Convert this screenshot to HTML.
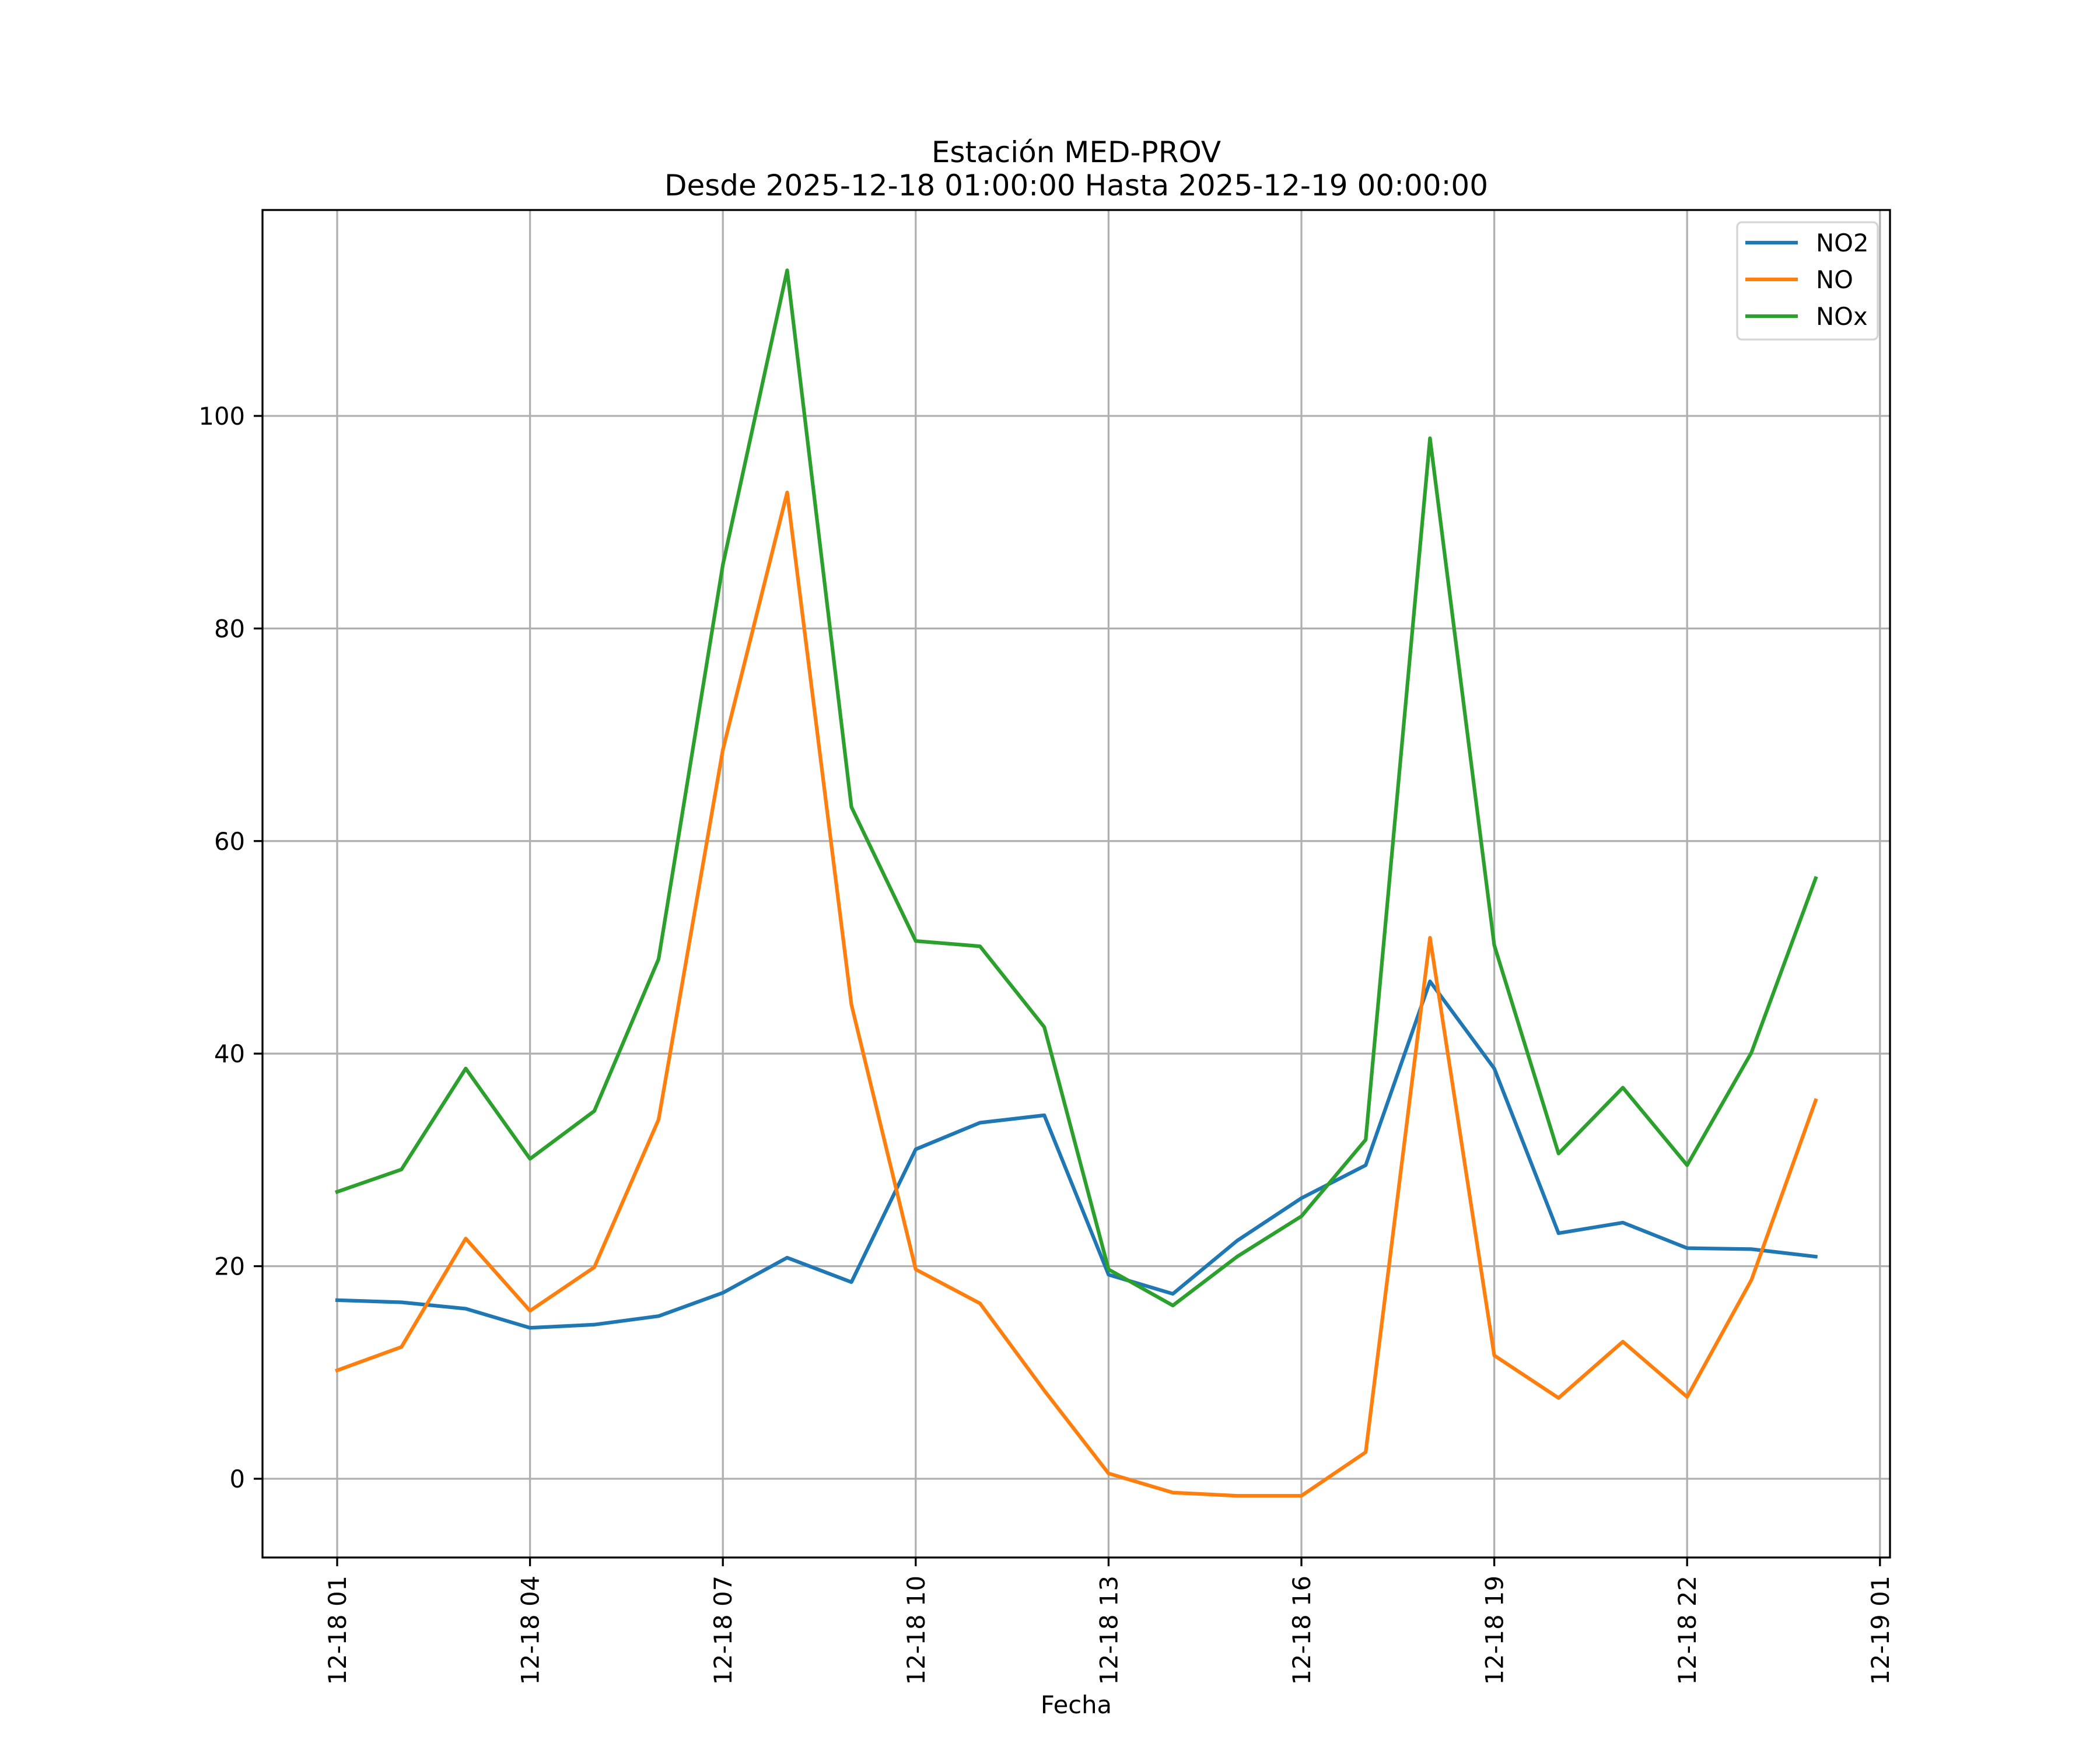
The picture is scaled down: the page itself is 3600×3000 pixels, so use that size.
<!DOCTYPE html>
<html><head><meta charset="utf-8"><style>
html,body{margin:0;padding:0;background:#fff;}
svg{display:block;font-family:"DejaVu Sans","Liberation Sans",sans-serif;}
</style></head><body>
<svg id="chart" width="3600" height="3000" viewBox="0 0 3600 3000" xmlns="http://www.w3.org/2000/svg">
<rect width="3600" height="3000" fill="#fff"/>
<text x="1845" y="278" font-size="50" text-anchor="middle">Estación MED-PROV</text>
<text x="1845" y="335" font-size="50" text-anchor="middle">Desde 2025-12-18 01:00:00 Hasta 2025-12-19 00:00:00</text>
<g id="grid"></g>
<g id="series"></g>
<rect x="450" y="360" width="2790" height="2310" fill="none" stroke="#000" stroke-width="3.3"/>
<g id="ticks"></g>
<text x="1845" y="2937" font-size="41.7" text-anchor="middle">Fecha</text>
<g>
<rect x="2978" y="381" width="241" height="201" rx="8" fill="#fff" fill-opacity="0.8" stroke="#d5d5d5" stroke-width="3.3"/>
<line x1="2992" y1="416" x2="3082" y2="416" stroke="#1f77b4" stroke-width="6.25"/>
<text x="3113" y="431" font-size="41.7">NO2</text>
<line x1="2992" y1="479" x2="3082" y2="479" stroke="#ff7f0e" stroke-width="6.25"/>
<text x="3113" y="494" font-size="41.7">NO</text>
<line x1="2992" y1="542" x2="3082" y2="542" stroke="#2ca02c" stroke-width="6.25"/>
<text x="3113" y="557" font-size="41.7">NOx</text>
</g>
</svg>
<script>
const hours = [1,2,3,4,5,6,7,8,9,10,11,12,13,14,15,16,17,18,19,20,21,22,23,24];
const no2 = [16.8,16.6,16.0,14.2,14.5,15.3,17.5,20.8,18.5,31.0,33.5,34.2,19.2,17.4,22.4,26.4,29.5,46.8,38.6,23.1,24.1,21.7,21.6,20.9];
const no = [10.2,12.4,22.6,15.8,19.9,33.8,68.6,92.8,44.6,19.7,16.5,8.3,0.5,-1.3,-1.6,-1.6,2.5,50.9,11.6,7.6,12.9,7.7,18.7,35.6];
const nox = [27.0,29.1,38.6,30.1,34.6,48.9,86.0,113.7,63.2,50.6,50.1,42.5,19.7,16.3,20.9,24.7,31.9,97.9,50.2,30.6,36.8,29.5,40.1,56.5];
const xTickHours = [1,4,7,10,13,16,19,22,25];
const xTickLabels = ["12-18 01","12-18 04","12-18 07","12-18 10","12-18 13","12-18 16","12-18 19","12-18 22","12-19 01"];
const yTicks = [0,20,40,60,80,100];

const NS = "http://www.w3.org/2000/svg";
const X0 = 578, PXH = 110.2, Y0 = 2535, PXU = 18.22, BOT = 2670;
function xs(h){ return X0 + (h-1)*PXH; }
function ys(v){ return Y0 - v*PXU; }
function mk(tag, attrs, parent){ const e=document.createElementNS(NS,tag); for(const k in attrs) e.setAttribute(k,attrs[k]); parent.appendChild(e); return e; }
const grid=document.getElementById('grid'), ticks=document.getElementById('ticks'), series=document.getElementById('series');

xTickHours.forEach((h,i)=>{
  const x=xs(h);
  const g=mk('line',{x1:x,y1:360,x2:x,y2:BOT,stroke:'#b0b0b0','stroke-width':3.3},grid);
  
  
  const t=mk('line',{x1:x,y1:BOT,x2:x,y2:BOT+15,stroke:'#000','stroke-width':3.3},ticks);
  
  
  const l=mk('text',{x:0,y:0,'font-size':41.7,'text-anchor':'end',transform:`translate(${x+15},${BOT+31}) rotate(-90)`},ticks);
  l.textContent=xTickLabels[i];
  
  
});
yTicks.forEach(v=>{
  const y=ys(v);
  const g=mk('line',{x1:450,y1:y,x2:3240,y2:y,stroke:'#b0b0b0','stroke-width':3.3},grid);
  
  
  const t=mk('line',{x1:435,y1:y,x2:450,y2:y,stroke:'#000','stroke-width':3.3},ticks);
  
  
  const l=mk('text',{x:420,y:y+15,'font-size':41.7,'text-anchor':'end'},ticks);
  l.textContent=String(v);
  
  
});
function draw(vals,color,name){
  const pts=vals.map((v,i)=>xs(hours[i]).toFixed(1)+','+ys(v).toFixed(1)).join(' ');
  const p=mk('polyline',{points:pts,fill:'none',stroke:color,'stroke-width':6.25,'stroke-linejoin':'round','stroke-linecap':'square'},series);
  
  
}
draw(no2,'#1f77b4','line-no2');
draw(no,'#ff7f0e','line-no');
draw(nox,'#2ca02c','line-nox');
</script>
</body></html>
